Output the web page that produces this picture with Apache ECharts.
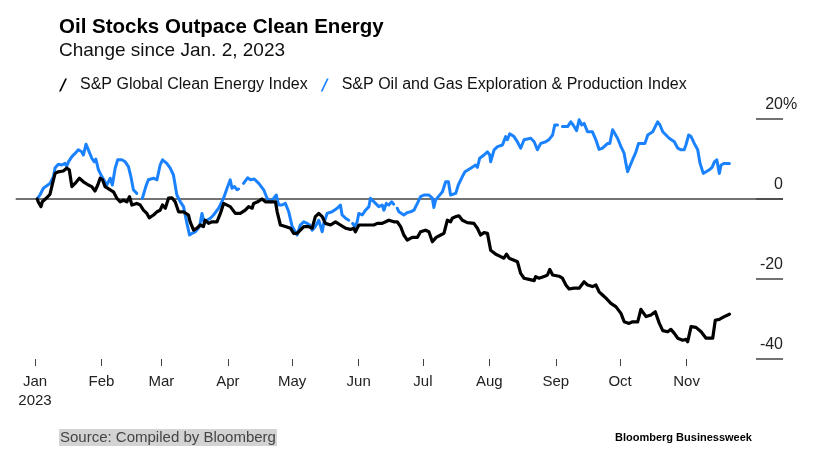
<!DOCTYPE html>
<html><head><meta charset="utf-8">
<script src="https://cdn.jsdelivr.net/npm/echarts@6/dist/echarts.min.js"></script>
<style>html,body{margin:0;padding:0;background:#fff}#c{width:831px;height:463px}</style>
</head><body><div id="c"></div>
<script>
// x values are day-of-year 2023 (Jan 1 = 1), y values are % change since Jan. 2, 2023
const cleanDays = [2,2.6,3.2,3.8,4.4,5.1,6.5,8,9.6,10.4,11.9,14.2,15.8,17,18.2,19.7,21.7,23.6,25.9,27.5,29,30.3,31.4,32.5,33.7,36.1,37.6,39.2,40.7,42.3,43.9,45.1,46.2,48.5,50.1,51.6,53.2,54.3,56.3,57.9,59.4,60.5,61.8,63.3,64.9,66.4,68,70.3,71.1,72.6,73.4,75,76.6,78.1,79.6,80.4,82,83.6,85.9,87.5,89,89.8,92.1,94.5,96.8,99.1,100.7,102.3,103,104.9,106.9,108.5,110.8,113.2,114,115.5,117.8,120.2,121.7,123.3,124.8,126.4,128.7,130.3,131.8,133.4,135,136.5,138.9,141.2,143.5,145.9,148.2,149.7,150.5,152.1,154.4,156.8,159.1,160.7,163,164.6,166.1,168.4,170,171.6,173.1,174.7,177,179.4,180.9,183.2,184.8,186.4,188.2,190.3,191.8,193.4,194.9,195.7,197.3,198.8,200.4,202.7,205.8,207.4,208.9,210.5,212.1,213.6,216,218.3,219.8,221,222.2,224.5,226.1,227.6,229.2,231.5,233.9,234.6,236.2,238.5,240.1,241.2,242.5,245.5,247.1,248.7,250.2,252.5,254.9,257.2,258.8,261.1,262.7,264.2,265.8,267.4,269.7,272,274.4,275.9,278.2,279.8,282.2,283.7,286.1,288.4,290.4,292.3,293.9,296.2,297.7,299.3,300.9,303.2,304.7,305.5,307.1,309.4,311.8,314.1,317.2,318.4,320.3,322.6,325];
const cleanValues = [0,-0.8,-0.3,-1.9,-0.7,-0.2,0.3,1.2,4.8,6.4,6.8,7.0,7.7,7.3,3.1,3.9,5.2,4.3,3.5,3.1,2.0,3.5,5.2,4.8,3.1,2.3,1.8,0.2,-0.7,-0.3,-0.7,0.6,-1.5,-1.1,-1.5,-2.8,-3.6,-4.7,-4.0,-3.2,-2.8,-1.5,-2.3,0.2,0.3,-0.7,-3.2,-3.2,-2.8,-4.0,-5.7,-7.8,-7.3,-6.5,-6.9,-5.3,-6.1,-5.7,-5.7,-3.6,-1.1,-0.7,-1.9,-3.6,-3.6,-2.8,-1.9,-2.3,-1.1,-0.7,0,-0.7,-0.7,-0.7,-3.2,-6.5,-6.9,-7.3,-8.6,-8.6,-7.8,-6.9,-6.9,-7.3,-4.4,-3.6,-4.4,-6.1,-6.5,-5.7,-6.5,-7.3,-7.6,-7.3,-8.2,-6.5,-6.5,-6.5,-6.5,-6.1,-6.1,-5.7,-5.3,-5.7,-5.7,-6.9,-9.0,-10.3,-9.6,-9.6,-8.2,-7.8,-8.2,-10.7,-9.6,-9.0,-8.6,-5.3,-5.7,-4.8,-4.4,-4.2,-5.3,-5.9,-6.1,-7.3,-9.0,-8.4,-8.6,-12.8,-13.8,-14.4,-14.8,-13.8,-14.8,-15.3,-15.7,-18.6,-19.8,-20.1,-20.4,-19.4,-19.8,-19.4,-19.0,-17.6,-19.0,-19.3,-19.8,-21.5,-22.5,-22.3,-22.3,-20.7,-21.5,-21.9,-21.5,-23.2,-24.0,-24.8,-26.1,-26.9,-28.6,-30.7,-31.1,-30.7,-30.7,-27.6,-29.4,-29.0,-28.2,-31.1,-32.9,-33.2,-32.6,-33.6,-34.8,-35.3,-35.1,-35.7,-31.9,-32.1,-33.2,-34.8,-34.8,-30.3,-30.1,-29.4,-28.8];
const oilDays = [2,3.3,4.9,6.5,8,9.6,10.4,11.9,13.5,15,15.8,16.6,18.2,19.7,21.2,22.8,23.6,24.8,25.9,27.5,28.6,29.4,30.6,32.2,34.5,36.1,37.1,38.4,39.6,41.5,43.1,44.6,45.9,46.9,48.5,49.8,51.1,52.7,53.9,56.3,57.9,59.4,60.5,62.5,64.1,65.6,67.2,68.8,70.3,71.9,73.1,74.2,75.8,77.8,78.9,80,81.2,82.8,84.3,86.7,89,90.6,92.1,92.9,94.1,95.3,96,97.2,98.3,100.2,101.5,103.3,105.4,107.7,109.3,110.8,112.4,113.6,114.7,116.3,117.8,119.4,121,122.5,123.3,124.8,126.4,128,129.2,130.3,131.8,133.4,135,135.7,137.3,139.6,142,143.5,144.3,145.9,147.4,148.2,149.2,150.2,151.3,152.1,153.7,155.2,156.8,157.5,158.3,159.9,161.4,162.2,163,163.8,164.9,166.1,167.4,168.4,169.2,170,170.8,171.6,173.1,174.7,176.2,177.8,179.4,180.9,182.5,184.8,186.4,187.1,187.9,189.2,191.1,192.6,193.9,194.9,197.3,198.5,200.4,201.6,204.3,206.6,207.4,208.5,210.5,212.1,213.2,213.6,215.2,216.8,219.1,220.6,221.4,222.5,224.5,226.1,227.6,229.2,230,232.3,233.9,235.4,237,239.3,240.9,242.5,243.5,244.8,245.8,247.1,249.5,251,252.1,253.7,254.9,256.1,257.2,258.8,261.1,262.7,264.2,265.8,268.2,269.2,270.5,271.2,272.8,274.4,275.9,276.7,277.5,278.2,279.8,281.4,282.6,284.5,285.6,286.9,289.2,290.4,291.5,292.6,293.9,295.4,296.9,299.3,300.9,302.4,303.9,304.7,306,307.1,308.6,310.2,311.3,312.8,314.1,315.6,316.9,318,319.1,320.3,321.1,322.6,325];
const oilValues = [0,1.0,2.7,3.3,3.9,5.6,7.8,8.7,8.5,8.9,8.1,9.3,10.6,11.4,12.3,11.8,11.0,13.7,12.3,10.2,9.3,10.0,7.3,5.6,3.5,5.2,3.5,7.7,9.8,9.8,9.3,8.1,5.2,2.3,1.4,null,0.2,3.1,4.8,5.2,4.8,8.5,9.8,8.9,7.7,6.0,1.0,-0.7,-1.9,-6.1,-9.0,-8.6,-8.2,-6.9,-3.6,-6.1,-5.3,-4.8,-4.0,-2.3,0.2,2.7,4.8,2.7,3.1,2.3,2.5,null,3.9,5.3,4.8,5.0,3.9,2.3,0.2,-0.7,0.2,1.0,-1.5,-1.5,-1.1,-3.2,-6.9,-8.2,-9.0,-6.5,-5.7,-6.1,-6.5,-7.8,-6.9,-5.3,-8.2,-6.1,-3.6,-3.2,-2.3,-1.5,-4.0,-4.8,-5.3,null,-6.1,-6.9,-5.7,-3.6,-4.0,-2.8,-1.9,0.2,-0.3,-1.1,-1.9,-2.3,-1.5,-2.8,-1.1,-1.5,-0.7,-1.3,null,-2.3,-3.2,-2.8,-4.0,-3.4,-3.2,-2.8,-1.1,0.6,1.0,1.0,0.2,-2.1,-0.3,0.6,1.8,4.3,4.3,1.0,1.4,3.5,5.6,6.8,7.7,8.5,7.9,10.2,11.0,11.8,11.0,9.3,12.3,13.1,13.5,15.6,14.8,16.3,15.6,14.3,12.7,14.8,15.2,15.2,14.3,12.3,13.9,14.3,14.9,16.0,18.5,18.5,null,18.1,18.1,19.3,18.5,17.1,19.8,18.5,18.9,16.8,16.8,14.8,12.4,12.7,13.9,13.9,17.3,17.7,15.2,13.1,11.4,8.9,6.8,7.3,9.8,11.8,13.9,13.9,13.9,16.0,16.8,18.1,19.3,18.5,16.8,16.0,15.2,14.3,12.7,12.3,12.3,13.5,16.0,15.6,13.9,12.3,8.9,6.4,6.8,7.3,7.9,9.3,9.8,6.4,8.5,8.9,8.9];
const monthTickDays = [1,32,60,91,121,152,182,213,244,274,305];
const monthLabels = ['Jan','Feb','Mar','Apr','May','Jun','Jul','Aug','Sep','Oct','Nov'];
const yearLabel = '2023';
const yTickValues = [-40,-20,0,20];
const seriesNames = ['S&P Global Clean Energy Index','S&P Oil and Gas Exploration & Production Index'];
const titleText = 'Oil Stocks Outpace Clean Energy';
const subtitleText = 'Change since Jan. 2, 2023';
const sourceText = 'Source: Compiled by Bloomberg';
const brandText = 'Bloomberg Businessweek';

const FONT = '"Liberation Sans", Arial, Helvetica, sans-serif';
const BLUE = '#1a82ff';
const slash = 'path://M0,13 L6.2,0 L8,0 L1.8,13 Z';
const toPairs = (days, vals) => days.map((d, i) => [d, vals[i] === null ? '-' : vals[i]]);
const yMin = yTickValues[0], yMax = yTickValues[yTickValues.length - 1];

const chart = echarts.init(document.getElementById('c'), null, {renderer: 'canvas'});
chart.setOption({
  animation: false,
  backgroundColor: '#fff',
  textStyle: {fontFamily: FONT},
  title: [
    {text: titleText, left: 59, top: 17, padding: 0,
     textStyle: {fontSize: 20.5, fontWeight: 'bold', color: '#000', fontFamily: FONT}},
    {text: subtitleText, left: 59, top: 41, padding: 0,
     textStyle: {fontSize: 19, fontWeight: 'normal', color: '#111', fontFamily: FONT}},
    {text: sourceText, left: 59, top: 429, padding: [1, 1, 1, 1], backgroundColor: '#d3d3d3',
     textStyle: {fontSize: 15, fontWeight: 'normal', color: '#444', fontFamily: FONT}},
    {text: brandText, left: 615, top: 432, padding: 0,
     textStyle: {fontSize: 11, fontWeight: 'bold', color: '#000', fontFamily: FONT}}
  ],
  legend: {
    left: 59, top: 77, itemWidth: 8, itemHeight: 13, itemGap: 13, selectedMode: false, padding: 0,
    data: [{name: seriesNames[0], icon: slash}, {name: seriesNames[1], icon: slash}],
    itemStyle: {borderWidth: 0},
    textStyle: {fontSize: 16, color: '#111', padding: [0, 0, 0, 8], fontFamily: FONT}
  },
  grid: {left: 15.7, right: 48, top: 119, bottom: 104, containLabel: false},
  xAxis: {
    type: 'value', min: -8, max: 350, position: 'bottom',
    axisLine: {show: false, onZero: false}, splitLine: {show: false},
    axisTick: {show: true, length: 7, customValues: monthTickDays, lineStyle: {color: '#444', width: 1}},
    axisLabel: {
      customValues: monthTickDays, margin: 14, fontSize: 15, color: '#222', lineHeight: 18.5,
      formatter: v => {
        const i = monthTickDays.indexOf(v);
        return i === 0 ? monthLabels[0] + '\n' + yearLabel : (i >= 0 ? monthLabels[i] : '');
      }
    }
  },
  yAxis: [
    {
      type: 'value', position: 'right', min: yMin, max: yMax, interval: 20,
      axisLine: {show: false, onZero: false}, axisTick: {show: false},
      splitLine: {show: true, lineStyle: {width: 1.5, color: yTickValues.map(v => v === 0 ? '#444' : 'rgba(0,0,0,0)')}},
      axisLabel: {inside: true, margin: 0, fontSize: 16, color: '#222', verticalAlign: 'bottom',
        lineHeight: 16, padding: [0, 0, 6, 0], formatter: v => String(v)}
    },
    {
      type: 'value', position: 'right', min: yMin, max: yMax, interval: 20,
      axisLine: {show: false, onZero: false}, splitLine: {show: false}, axisTick: {show: false},
      axisLabel: {inside: false, margin: 0, fontSize: 16, color: '#222', verticalAlign: 'bottom',
        lineHeight: 16, padding: [0, 0, 6, 0], formatter: v => v === 20 ? '%' : ''}
    },
    {
      type: 'value', position: 'right', offset: -27, min: yMin, max: yMax, interval: 20,
      axisLine: {show: false, onZero: false}, splitLine: {show: false}, axisLabel: {show: false},
      axisTick: {show: true, inside: false, length: 27, lineStyle: {color: '#444', width: 1.5}}
    }
  ],
  series: [
    {name: seriesNames[1], type: 'line', data: toPairs(oilDays, oilValues), symbol: 'none', showSymbol: false,
     connectNulls: false, z: 2, lineStyle: {width: 3, color: BLUE, join: 'round', cap: 'round'},
     itemStyle: {color: BLUE}, emphasis: {disabled: true}},
    {name: seriesNames[0], type: 'line', data: toPairs(cleanDays, cleanValues), symbol: 'none', showSymbol: false,
     connectNulls: false, z: 3, lineStyle: {width: 3.2, color: '#000', join: 'round', cap: 'round'},
     itemStyle: {color: '#000'}, emphasis: {disabled: true}}
  ]
});
</script></body></html>
